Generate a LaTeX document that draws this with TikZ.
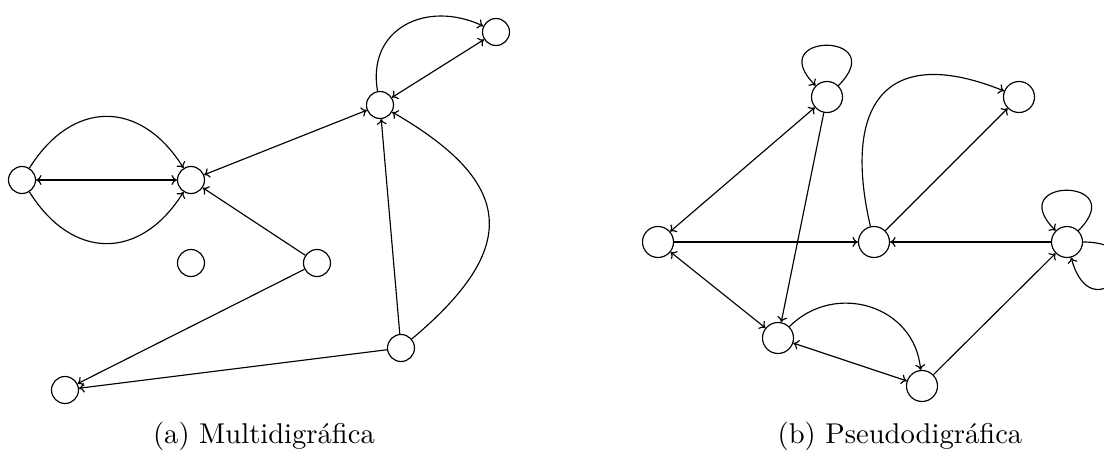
\documentclass[tikz,border=0pt]{standalone}
\usepackage{fontspec}
\newfontfamily\capfont{lmroman10-regular.otf}
\usetikzlibrary{arrows.meta}
\begin{document}
\begin{tikzpicture}[x=1pt,y=1pt,line width=1.15pt,
  >={Computer Modern Rightarrow[length=5.5pt,width=10pt]},
  va/.style={circle,draw,minimum size=27pt,inner sep=0pt},
  vb/.style={circle,draw,minimum size=31pt,inner sep=0pt},
  captxt/.style={anchor=base,font=\capfont\fontsize{28.6}{34}\selectfont}]
\useasboundingbox (0,0) rectangle (1104,451);
% (a)
\node[va] (A1) at (22,271) {};
\node[va] (A2) at (191,271) {};
\node[va] (A3) at (496,419) {};
\node[va] (A4) at (380,346) {};
\node[va] (A5) at (191,188) {};
\node[va] (A6) at (317,188) {};
\node[va] (A7) at (401,103) {};
\node[va] (A8) at (65,61) {};
\draw[<->] (A1) -- (A2);
\draw[->] (A1) to[out=58,in=122,looseness=1.35] (A2);
\draw[->] (A1) to[out=-58,in=-122,looseness=1.35] (A2);
\draw[<->] (A2) -- (A4);
\draw[->] (A6) -- (A2);
\draw[->] (A6) -- (A8);
\draw[->] (A7) -- (A8);
\draw[->] (A7) -- (A4);
\draw[->] (A7) to[out=40,in=-30,looseness=1.6] (A4);
\draw[<->] (A4) -- (A3);
\draw[->] (A4) to[out=100,in=155,looseness=1.3] (A3);
\node[captxt] (ca) at (264,8) {(a) Multidigráfica};
% (b)
\node[vb] (B1) at (658,209) {};
\node[vb] (B2) at (827,354) {};
\node[vb] (B3) at (1019,354) {};
\node[vb] (B4) at (874,209) {};
\node[vb] (B5) at (1067,209) {};
\node[vb] (B6) at (778,113) {};
\node[vb] (B7) at (922,65) {};
\draw[->] (B2) to[out=45,in=135,distance=76pt] (B2);
\draw[->] (B5) to[out=45,in=135,distance=76pt] (B5);
\draw[->] (B5) to[out=0,in=-75,distance=82pt] (B5);
\draw[<->] (B1) -- (B2);
\draw[->] (B2) -- (B6);
\draw[->] (B1) -- (B4);
\draw[->] (B5) -- (B4);
\draw[->] (B4) -- (B3);
\draw[->] (B4) to[out=103,in=158,looseness=1.7] (B3);
\draw[<->] (B1) -- (B6);
\draw[<->] (B6) -- (B7);
\draw[->] (B6) to[out=45,in=95,looseness=1.2] (B7);
\draw[->] (B7) -- (B5);
\node[captxt] (cb) at (900,8) {(b) Pseudodigráfica};
\end{tikzpicture}
\end{document}
